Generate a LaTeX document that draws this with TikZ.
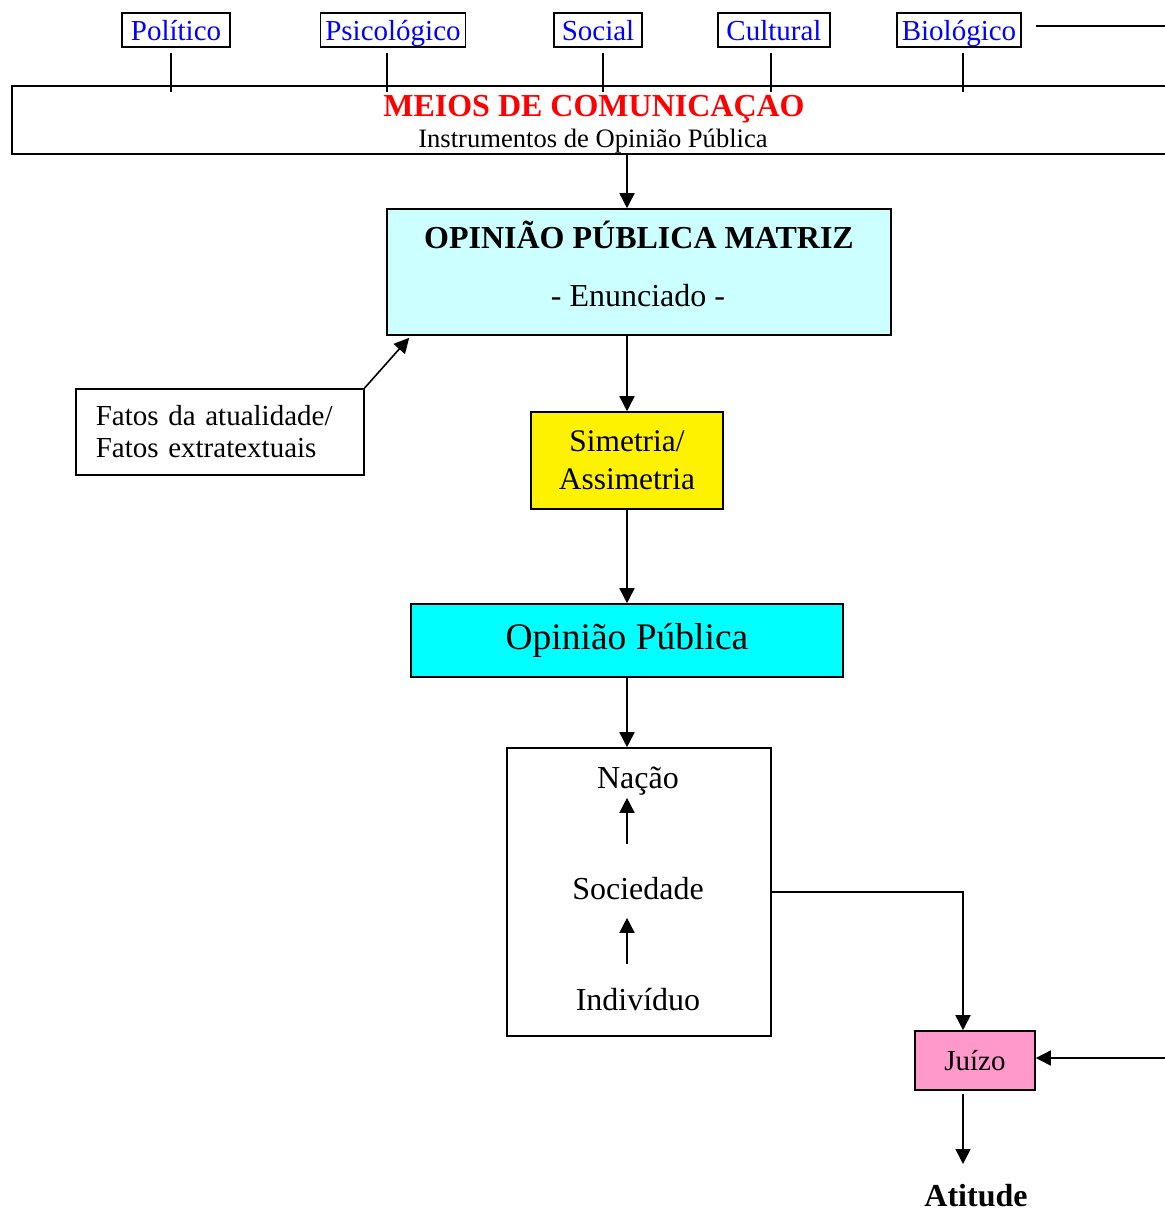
\documentclass[tikz,border=0pt]{standalone}
\usepackage{fontspec}
\setmainfont{Liberation Serif}
\usetikzlibrary{arrows.meta}
\definecolor{matrizcor}{HTML}{CCFFFF}
\definecolor{opcor}{HTML}{00FFFF}
\definecolor{juizocor}{HTML}{FF99CC}

\begin{document}
\begin{tikzpicture}[x=1pt, y=-1pt, line width=1.6pt,
  box/.style={draw, rectangle, inner sep=0pt},
  lbl/.style={box, text=blue, font=\fontsize{29}{33}\selectfont, minimum height=34pt, text height=23pt, text depth=3pt},
  txt/.style={inner sep=0pt, anchor=base, font=\fontsize{32}{38}\selectfont},
  grupo/.style={txt, text height=21pt, text depth=0pt},
  arr/.style={-{Triangle[length=15pt,width=15pt]}}]

\useasboundingbox (0,0) rectangle (1165,1211);

\node[lbl, minimum width=108pt] (pol) at (176,30) {Político};
\node[lbl, minimum width=145pt] (psi) at (393,30) {Psicológico};
\node[lbl, minimum width=88pt] (social) at (598,30) {Social};
\node[lbl, minimum width=112pt] (cult) at (774,30) {Cultural};
\node[lbl, minimum width=124pt] (bio) at (959,30) {Biológico};

\foreach \n/\dx in {pol/-5, psi/-6, social/5, cult/-3, bio/4}
  \draw ([xshift=\dx pt, yshift=-5pt]\n.south) -- ++(0,39);
\draw ([xshift=14pt, yshift=4pt]bio.east) -- ++(131,0);

\draw (1165,86) -- (12,86) -- (12,154) -- (1165,154);
\node[txt, text=red, font=\bfseries\fontsize{32}{38}\selectfont] (meios) at (594,116) {MEIOS DE COMUNICAÇAO};
\node[txt, font=\fontsize{26.6}{30}\selectfont] (instr) at (593,147) {Instrumentos de Opinião Pública};
\coordinate (mbase) at (627,154);

\node[box, fill=matrizcor, minimum width=504pt, minimum height=126pt] (opm) at (639,272) {};
\node[txt, font=\bfseries\fontsize{32}{38}\selectfont] (opmtit) at (639,248) {OPINIÃO PÚBLICA MATRIZ};
\node[txt] (enun) at (638,306) {- Enunciado -};

\node[box, anchor=north west, minimum height=86pt, text width=248pt, inner xsep=20pt, align=left,
  font=\fontsize{29}{31.6}\selectfont] (fatos) at (75,388) {Fatos da atualidade/\\Fatos extratextuais};

\node[box, fill=yellow, minimum width=192pt, minimum height=97pt, align=center,
  font=\fontsize{31.4}{38.3}\selectfont] (sim) at (627,460.5) {Simetria/\\Assimetria};

\node[box, fill=opcor, minimum width=432pt, minimum height=73pt,
  font=\fontsize{37.5}{44}\selectfont] (op) at (627,640.5) {Opinião Pública};

\node[box, minimum width=264pt, minimum height=288pt] (grp) at (639,892) {};
\node[grupo] (nacao) at (638,788) {Nação};
\node[grupo] (socied) at (638,899) {Sociedade};
\node[grupo] (indiv) at (638,1010) {Indivíduo};

\node[box, fill=juizocor, minimum width=120pt, minimum height=59pt,
  font=\fontsize{29}{33}\selectfont] (juizo) at (975,1060.5) {Juízo};
\node[txt, font=\bfseries\fontsize{32}{38}\selectfont] (atit) at (976,1206) {Atitude};
\coordinate (dir) at (1165,1058);

\draw[arr] (mbase) -- (mbase |- opm.north);
\draw[arr] (opm.south -| sim.north) -- (sim.north);
\draw[arr] (fatos.north east) -- ([xshift=23pt, yshift=-2pt]opm.south west);
\draw[arr] (sim.south) -- (op.north);
\draw[arr] (op.south) -- (op.south |- grp.north);
\draw[arr, shorten <=33pt, shorten >=9pt] ([xshift=-11pt]socied.north) -- ([xshift=-11pt]nacao.south);
\draw[arr, shorten <=24pt, shorten >=18pt] ([xshift=-11pt]indiv.north) -- ([xshift=-11pt]socied.south);
\draw[arr] (grp.east) -| ([xshift=-12pt]juizo.north);
\draw[arr] (dir) -- (dir -| juizo.east);
\draw[arr, shorten >=19pt] ([xshift=-12pt, yshift=-3pt]juizo.south) -- ([xshift=-13pt]atit.north);

\end{tikzpicture}
\end{document}
